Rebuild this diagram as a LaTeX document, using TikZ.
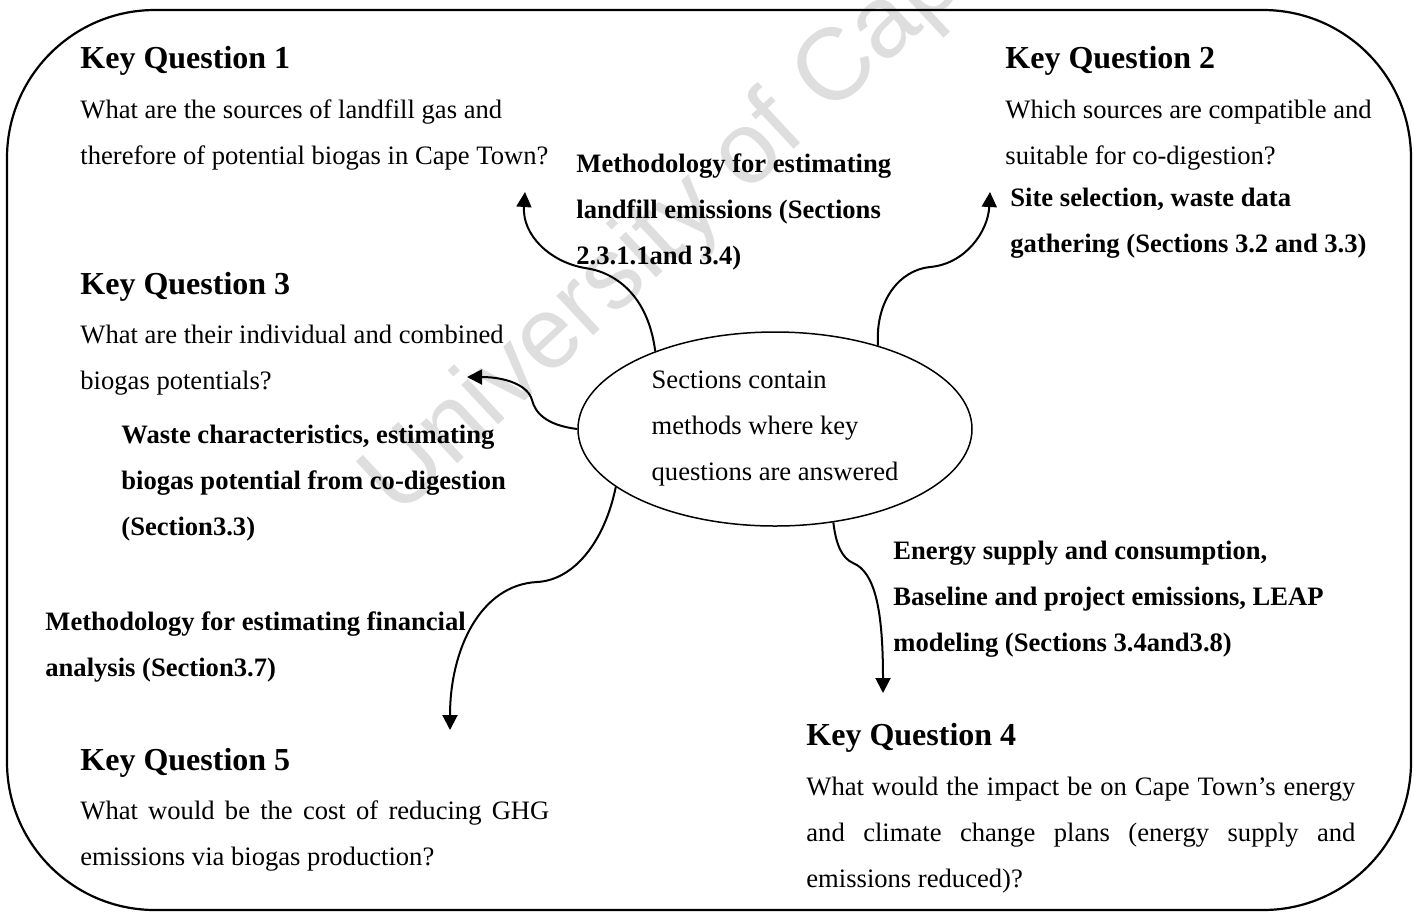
\documentclass[tikz,border=0pt]{standalone}
\usepackage{fontspec}
\setmainfont{Liberation Serif}
\newfontfamily\wmfont{Liberation Sans}
\usetikzlibrary{arrows.meta,shapes.geometric}
\definecolor{wmgray}{RGB}{222,222,222}

\tikzstyle{hub}=[ellipse,draw,line width=0.75pt,minimum width=197pt,minimum height=97pt,inner sep=0pt,align=left,font=\fontsize{13.3}{23}\selectfont]
\tikzstyle{keyq}=[anchor=base west,inner sep=0pt,font=\fontsize{16}{19}\selectfont\bfseries]
\tikzstyle{plain}=[anchor=base west,inner sep=0pt,align=left,font=\fontsize{13.3}{23}\selectfont]
\tikzstyle{method}=[plain,font=\fontsize{13.3}{23}\selectfont\bfseries]
\tikzstyle{link}=[line width=1pt,-{Triangle[length=7.5pt,width=7.5pt]}]
\tikzstyle{wm}=[anchor=base west,inner sep=0pt,text=wmgray,font=\wmfont\fontsize{51}{51}\selectfont]

\begin{document}
\begin{tikzpicture}[x=0.5pt,y=-0.5pt]
	\useasboundingbox (0,0) rectangle (1414,912);
	
	% watermark
	\begin{scope}
	\clip (0,0) rectangle (1414,912);
	\node[wm,rotate=43] (water) at (398,519) {University of Cape Town};
	\end{scope}
	
	% frame
	\draw[line width=1.1pt,rounded corners=74pt] (7,10) rectangle (1411,910);
	
	\node[hub] (hub) at (775,429) {Sections contain\\methods where key\\questions are answered};
	
	% key questions (base = last line)
	\node[keyq] (kq1) at (80,68) {Key Question 1};
	\node[plain] (q1) at (80,164) {What are the sources of landfill gas and\\therefore of potential biogas in Cape Town?};
	\node[keyq] (kq2) at (1005,68) {Key Question 2};
	\node[plain] (q2) at (1005,164) {Which sources are compatible and\\suitable for co-digestion?};
	\node[keyq] (kq3) at (80,294) {Key Question 3};
	\node[plain] (q3) at (80,389) {What are their individual and combined\\biogas potentials?};
	\node[keyq] (kq4) at (806,745) {Key Question 4};
	\node[plain] (q4) at (806,887) {\makebox[274.5pt][s]{What would the impact be on Cape Town’s energy}\\\makebox[274.5pt][s]{and climate change plans (energy supply and}\\emissions reduced)?};
	\node[keyq] (kq5) at (80,770) {Key Question 5};
	\node[plain] (q5) at (80,865) {\makebox[234.5pt][s]{What would be the cost of reducing GHG}\\emissions via biogas production?};
	
	% methods
	\node[method] (m1) at (576,264) {Methodology for estimating\\landfill emissions (Sections\\2.3.1.1and 3.4)};
	\node[method] (m2) at (1010,252) {Site selection, waste data\\gathering (Sections 3.2 and 3.3)};
	\node[method] (m3) at (121,535) {Waste characteristics, estimating\\biogas potential from co-digestion\\(Section3.3)};
	\node[method] (m4) at (893,651) {Energy supply and consumption,\\Baseline and project emissions, LEAP\\modeling (Sections 3.4and3.8)};
	\node[method] (m5) at (45,676) {Methodology for estimating financial\\analysis (Section3.7)};
	
	\coordinate (tip1) at (525,192);
	\coordinate (tip2) at (990,192);
	\coordinate (tip3) at (467,377);
	\coordinate (tip4) at (450,730);
	\coordinate (tip5) at (883,693);
	
	\draw[link] (hub.147) .. controls (648,295) and (615,272) .. (585,268) .. controls (550,262) and (522,235) .. (tip1);
	\draw[link] (hub.39) .. controls (875,300) and (900,270) .. (930,267) .. controls (965,264) and (988,232) .. (tip2);
	\draw[link] (hub.180) .. controls (545,425) and (535,412) .. (532,400) .. controls (528,385) and (505,377) .. (tip3);
	\draw[link] (hub.200) .. controls (605,540) and (575,580) .. (537,582) .. controls (480,585) and (450,650) .. (tip4);
	\draw[link] (hub.302) .. controls (836,545) and (842,558) .. (853,563) .. controls (875,572) and (883,610) .. (tip5);
\end{tikzpicture}
\end{document}
